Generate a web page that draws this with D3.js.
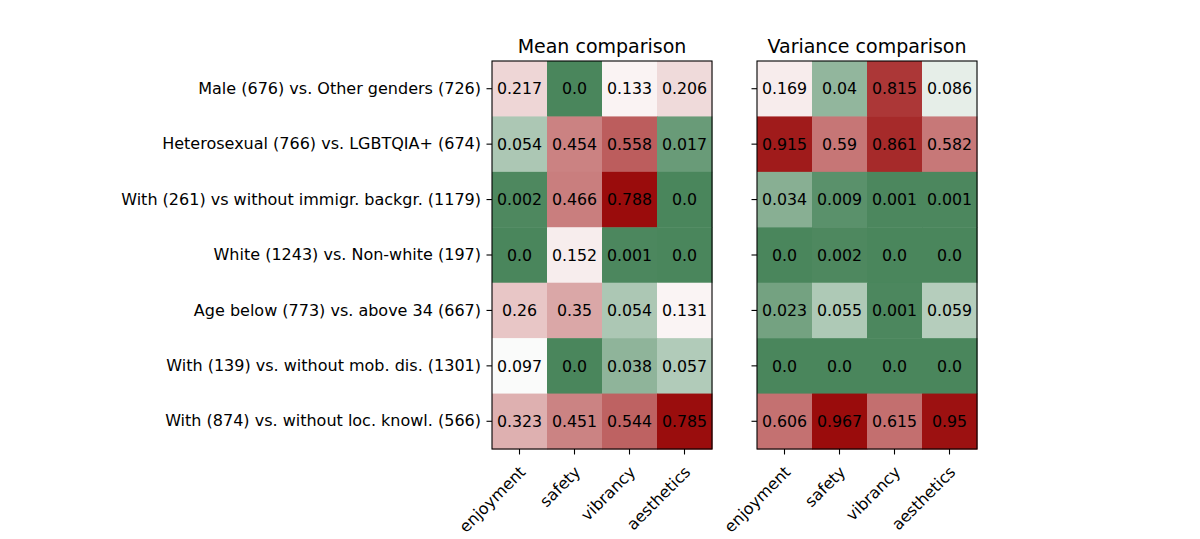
<!DOCTYPE html>
<html>
<head>
<meta charset="utf-8">
<script src="https://cdn.jsdelivr.net/npm/d3@7"></script>
<style>
    body { margin: 0; background: #fff; }
    svg text { font-family: "DejaVu Sans", sans-serif; fill: #000; }
</style>
</head>
<body>
<div id="chart"></div>
<script>
var comparisons = [
    "Male (676) vs. Other genders (726)",
    "Heterosexual (766) vs. LGBTQIA+ (674)",
    "With (261) vs without immigr. backgr. (1179)",
    "White (1243) vs. Non-white (197)",
    "Age below (773) vs. above 34 (667)",
    "With (139) vs. without mob. dis. (1301)",
    "With (874) vs. without loc. knowl. (566)"
];
var perceptions = ["enjoyment", "safety", "vibrancy", "aesthetics"];

// p-values, one row per comparison
var meanValues = [
    [0.217, 0.0, 0.133, 0.206],
    [0.054, 0.454, 0.558, 0.017],
    [0.002, 0.466, 0.788, 0.0],
    [0.0, 0.152, 0.001, 0.0],
    [0.26, 0.35, 0.054, 0.131],
    [0.097, 0.0, 0.038, 0.057],
    [0.323, 0.451, 0.544, 0.785]
];
var varianceValues = [
    [0.169, 0.04, 0.815, 0.086],
    [0.915, 0.59, 0.861, 0.582],
    [0.034, 0.009, 0.001, 0.001],
    [0.0, 0.002, 0.0, 0.0],
    [0.023, 0.055, 0.001, 0.059],
    [0.0, 0.0, 0.0, 0.0],
    [0.606, 0.967, 0.615, 0.95]
];
var panelTitles = ["Mean comparison", "Variance comparison"];

var width = 1200,
    height = 539,
    panelTop = 61,
    panelHeight = 388,
    panelWidth = 220,
    panelLefts = [492, 757],
    tickLength = 5.5,
    tickPad = 5.5,
    fontSize = 16,
    cellFontSize = 15.8,
    titleSize = 19,
    centerValue = 0.1;

var svg = d3.select("#chart")
            .append("svg")
            .attr("width", width)
            .attr("height", height);

function fmt(v) {
    return Number.isInteger(v) ? v.toFixed(1) : String(v);
}

function drawPanel(values, title, left, showLabels) {
    var x = d3.scaleBand().domain(perceptions).range([0, panelWidth]),
        y = d3.scaleBand().domain(comparisons).range([0, panelHeight]),
        maxValue = d3.max(values, function(r) {return d3.max(r); });

    //green below the center, white at the center, red up to the panel max
    var color = d3.scaleLinear()
                  .domain([0, centerValue, maxValue])
                  .range(["#4a865c", "#ffffff", "#9a0c0c"])
                  .clamp(true);

    var g = svg.append("g")
               .attr("transform", "translate(" + left + "," + panelTop + ")");

    var cells = [];
    values.forEach(function(row, i) {
        row.forEach(function(v, j) {
            cells.push({row : comparisons[i], col : perceptions[j], value : v});
        });
    });

    g.selectAll(".cell")
     .data(cells)
     .enter()
     .append("rect")
     .attr("class", "cell")
     .attr("x", function(d) {return x(d.col); })
     .attr("y", function(d) {return y(d.row); })
     .attr("width", x.bandwidth() + 0.5)
     .attr("height", y.bandwidth() + 0.5)
     .style("fill", function(d) {return color(d.value); });

    g.selectAll(".cellText")
     .data(cells)
     .enter()
     .append("text")
     .attr("class", "cellText")
     .attr("x", function(d) {return x(d.col) + x.bandwidth() / 2; })
     .attr("y", function(d) {return y(d.row) + y.bandwidth() / 2; })
     .attr("text-anchor", "middle")
     .attr("dy", "0.36em")
     .style("font-size", cellFontSize + "px")
     .text(function(d) {return fmt(d.value); });

    g.append("rect")
     .attr("width", panelWidth)
     .attr("height", panelHeight)
     .style("fill", "none")
     .style("stroke", "#000")
     .style("stroke-width", 1.1);

    // y axis: ticks on both panels, labels only on the first
    var yAxis = g.append("g")
                 .call(d3.axisLeft(y)
                         .tickSize(tickLength)
                         .tickPadding(tickPad)
                         .tickFormat(showLabels ? null : ""));
    yAxis.select(".domain").remove();
    yAxis.selectAll("line").style("stroke", "#000").style("stroke-width", 1.1);
    yAxis.selectAll("text")
         .style("font-size", fontSize + "px")
         .attr("fill", "#000");

    var xAxis = g.append("g")
                 .attr("transform", "translate(0," + panelHeight + ")")
                 .call(d3.axisBottom(x).tickSize(tickLength).tickPadding(0));
    xAxis.select(".domain").remove();
    xAxis.selectAll("line").style("stroke", "#000").style("stroke-width", 1.1);
    xAxis.selectAll("text")
         .style("font-size", fontSize + "px")
         .attr("fill", "#000")
         .attr("text-anchor", "end")
         .attr("dy", null)
         .attr("y", null)
         .attr("transform", "translate(7,24) rotate(-45)");

    g.append("text")
     .attr("x", panelWidth / 2)
     .attr("y", -8.5)
     .attr("text-anchor", "middle")
     .style("font-size", titleSize + "px")
     .text(title);
}

drawPanel(meanValues, panelTitles[0], panelLefts[0], true);
drawPanel(varianceValues, panelTitles[1], panelLefts[1], false);
</script>
</body>
</html>
